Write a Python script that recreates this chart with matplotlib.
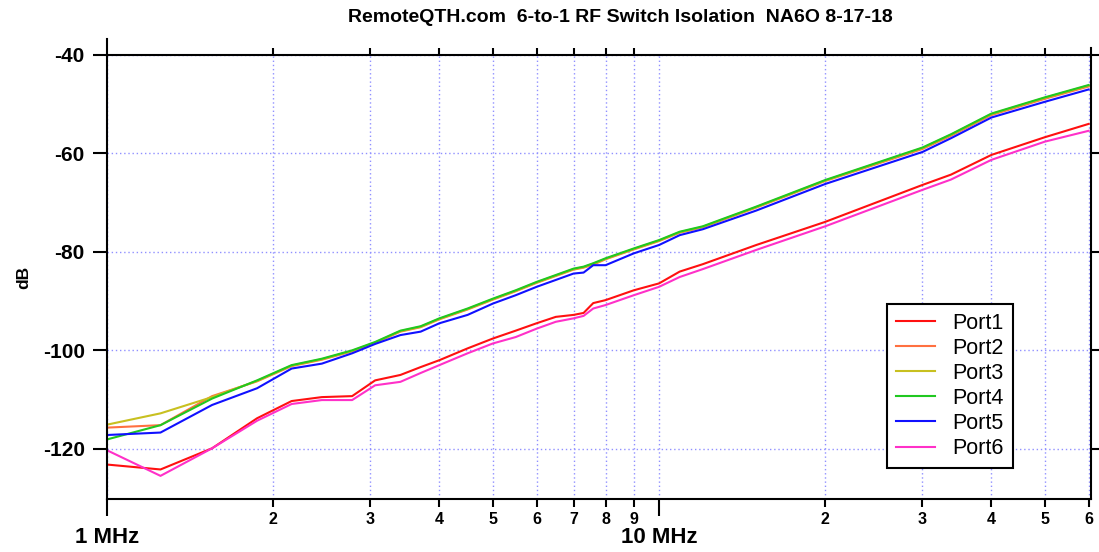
import matplotlib
matplotlib.use('Agg')

import matplotlib.pyplot as plt
from matplotlib.ticker import FixedLocator, FixedFormatter, NullFormatter

plt.rcParams['font.family'] = ['Liberation Sans', 'DejaVu Sans']

# frequency points (MHz)
freq = [1.0, 1.25, 1.55, 1.87, 2.16, 2.45, 2.78, 3.06, 3.4, 3.7, 4.0, 4.5, 5.0, 5.5,
        6.0, 6.5, 7.0, 7.3, 7.6, 8.0, 9.0, 10.0, 10.9, 12.0, 15.0, 20.0, 30.0,
        33.8, 40.0, 50.0, 60.0]

port1 = [-123.2, -124.2, -119.9, -113.8, -110.3, -109.5, -109.3, -106.1, -105.0, -103.4,
         -102.0, -99.6, -97.6, -96.0, -94.5, -93.2, -92.8, -92.4, -90.4, -89.8, -87.8,
         -86.4, -84.0, -82.5, -78.6, -73.9, -66.4, -64.3, -60.3, -56.7, -54.0]
port2 = [-115.7, -115.2, -109.3, -106.3, -103.2, -101.9, -100.2, -98.5, -96.2, -95.3,
         -93.7, -91.7, -89.7, -88.0, -86.3, -84.9, -83.6, -83.2, -82.6, -81.5, -79.5,
         -77.8, -76.1, -75.0, -71.0, -65.6, -59.1, -56.4, -52.2, -48.9, -46.4]
port3 = [-115.1, -112.8, -109.5, -106.2, -103.1, -101.8, -100.1, -98.4, -96.1, -95.2,
         -93.6, -91.6, -89.6, -87.9, -86.2, -84.8, -83.5, -83.1, -82.4, -81.4, -79.4,
         -77.7, -76.0, -74.9, -70.9, -65.5, -58.9, -56.2, -52.0, -48.7, -46.2]
port4 = [-118.1, -115.2, -109.8, -106.1, -103.0, -101.7, -100.0, -98.3, -96.0, -95.1,
         -93.5, -91.5, -89.5, -87.8, -86.1, -84.7, -83.4, -83.0, -82.3, -81.3, -79.3,
         -77.6, -75.9, -74.8, -70.8, -65.4, -58.8, -56.1, -51.9, -48.6, -46.1]
port5 = [-117.2, -116.7, -111.1, -107.7, -103.7, -102.7, -100.6, -98.7, -96.9, -96.2,
         -94.5, -92.8, -90.5, -88.8, -87.1, -85.7, -84.4, -84.2, -82.7, -82.7, -80.3,
         -78.6, -76.6, -75.4, -71.6, -66.2, -59.7, -56.9, -52.7, -49.5, -47.0]
port6 = [-120.3, -125.5, -119.9, -114.3, -110.9, -110.1, -110.1, -107.1, -106.4, -104.6,
         -103.0, -100.6, -98.6, -97.3, -95.6, -94.2, -93.5, -93.0, -91.5, -90.8, -88.8,
         -87.1, -85.1, -83.5, -79.6, -74.8, -67.4, -65.3, -61.3, -57.6, -55.4]

series = [port1, port2, port3, port4, port5, port6]
names = ['Port1', 'Port2', 'Port3', 'Port4', 'Port5', 'Port6']
colors = ['#ff1010', '#ff7040', '#c8c020', '#20c820', '#1010ff', '#ff30c8']

major_x = [1, 10]
major_lbl = ['1 MHz', '10 MHz']
minor_x = [2, 3, 4, 5, 6, 7, 8, 9, 20, 30, 40, 50, 60]
minor_lbl = ['2', '3', '4', '5', '6', '7', '8', '9', '2', '3', '4', '5', '6']
y_ticks = [-40, -60, -80, -100, -120]

fig = plt.figure(figsize=(10.99, 5.52), dpi=100)
ax = fig.add_axes([107 / 1099, 1 - 499 / 552, 984 / 1099, 444 / 552])

for s, n, c in zip(series, names, colors):
    ax.plot(freq, s, color=c, lw=1.5, label=n)

ax.set_xscale('log')
ax.set_xlim(1, 60.6)
ax.set_ylim(-130.2, -40)

ax.xaxis.set_major_locator(FixedLocator(major_x))
ax.xaxis.set_major_formatter(FixedFormatter(major_lbl))
ax.xaxis.set_minor_locator(FixedLocator(minor_x))
ax.xaxis.set_minor_formatter(FixedFormatter(minor_lbl))
ax.set_yticks(y_ticks)
ax.set_yticklabels([str(v) for v in y_ticks])

grid_kw = dict(color='#9090ff', lw=1.0, linestyle=(0, (1, 2)))
ax.grid(True, axis='x', which='both', **grid_kw)
ax.grid(True, axis='y', which='major', **grid_kw)

for sp in ax.spines.values():
    sp.set_linewidth(1.5)
    sp.set_color('black')

ax.tick_params(axis='x', which='major', direction='out', length=12, width=1.5,
               labelsize=16, pad=8)
ax.tick_params(axis='x', which='minor', direction='out', length=6, width=1.5,
               labelsize=11.5, pad=3)
ax.tick_params(axis='y', which='major', direction='out', length=10, width=1.5,
               labelsize=15, pad=6, right=True)
for lbl in ax.get_xticklabels(which='both') + ax.get_yticklabels():
    lbl.set_fontweight('bold')

# ticks on top spine
ax2 = ax.twiny()
ax2.set_xscale('log')
ax2.set_xlim(ax.get_xlim())
ax2.xaxis.set_major_locator(FixedLocator(minor_x[:-1]))
ax2.xaxis.set_major_formatter(NullFormatter())
ax2.xaxis.set_minor_locator(FixedLocator([]))
ax2.tick_params(axis='x', which='major', direction='out', length=5, width=1.5)
for sp in ax2.spines.values():
    sp.set_visible(False)

ax.plot([0, 0], [1, 1.035], transform=ax.transAxes, clip_on=False, color='k', lw=1.5)
ax.plot([1, 1], [1, 1.016], transform=ax.transAxes, clip_on=False, color='k', lw=1.5)

ax.set_ylabel('dB', fontsize=12.5, fontweight='bold', labelpad=8)

fig.text(620 / 1099, 1 - 18 / 552,
         'RemoteQTH.com  6-to-1 RF Switch Isolation  NA6O 8-17-18',
         ha='center', va='center', fontsize=14, fontweight='bold')

leg = ax.legend(loc='upper left', bbox_to_anchor=(887 / 1099, 1 - 304 / 552),
                bbox_transform=fig.transFigure, borderaxespad=0, fancybox=False,
                edgecolor='black', framealpha=1, fontsize=15.5, handlelength=1.85,
                labelspacing=0.19, handletextpad=0.8, borderpad=0.4)
leg.get_frame().set_linewidth(1.5)

plt.savefig('out.png', dpi=100)
